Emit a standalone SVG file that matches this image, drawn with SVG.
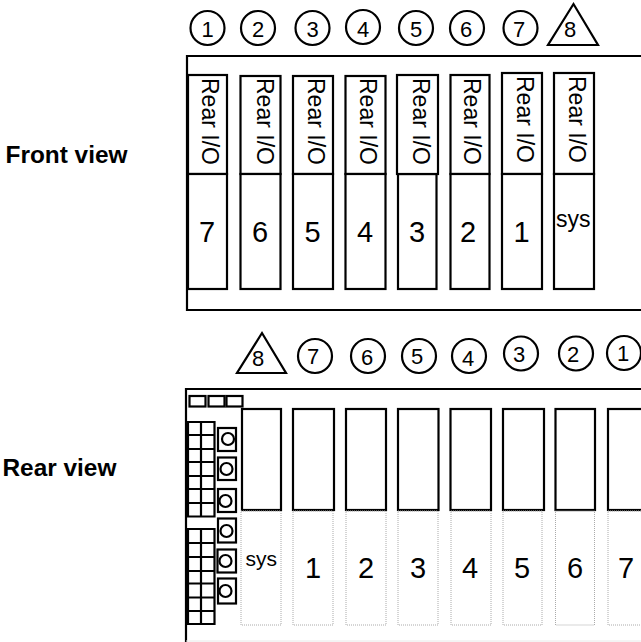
<svg xmlns="http://www.w3.org/2000/svg" width="641" height="642" viewBox="0 0 641 642">
<style>
text{font-family:"Liberation Sans",Arial,sans-serif;fill:#000}
.b{fill:#fff;stroke:#000;stroke-width:2.2}
.n{fill:none;stroke:#000;stroke-width:2.2}
.d{fill:none;stroke:#aaa;stroke-width:1;stroke-dasharray:1 1}
.l{font-size:24.400px;font-weight:bold}
.c{font-size:22px;text-anchor:middle}
.s{font-size:29px;text-anchor:middle}
.r{font-size:23px}
</style>
<rect width="641" height="642" fill="#fff"/>
<text class="l" x="5.500" y="163">Front view</text>
<text class="l" x="2.500" y="475.500">Rear view</text>
<g id="front-frame"><path class="n" d="M641 56H187V310H641"/></g>
<g id="front-badges">
<circle class="n" cx="207.500" cy="28" r="17"/><text class="c" x="207.500" y="36.500">1</text>
<circle class="n" cx="258" cy="28" r="17"/><text class="c" x="258" y="36.500">2</text>
<circle class="n" cx="312.500" cy="28" r="17"/><text class="c" x="312.500" y="36.500">3</text>
<circle class="n" cx="363" cy="27" r="17"/><text class="c" x="363" y="36.500">4</text>
<circle class="n" cx="416" cy="28" r="17"/><text class="c" x="416" y="36.500">5</text>
<circle class="n" cx="467" cy="28" r="17"/><text class="c" x="466" y="36.500">6</text>
<circle class="n" cx="520.500" cy="28" r="17"/><text class="c" x="519" y="36.500">7</text>
<path class="n" d="M573.500 4L548 45H598Z"/><text class="c" x="570" y="36.500">8</text>
</g>
<g id="front-slot-7"><rect class="b" x="188" y="75" width="39" height="99"/><rect class="b" x="188" y="174" width="39" height="115"/><text class="r" transform="translate(201.500 78) rotate(90)">Rear I/O</text><text class="s" x="207" y="242">7</text></g>
<g id="front-slot-6"><rect class="b" x="240.500" y="76" width="40" height="98"/><rect class="b" x="240.500" y="174" width="40" height="115"/><text class="r" transform="translate(256.500 78) rotate(90)">Rear I/O</text><text class="s" x="260" y="242">6</text></g>
<g id="front-slot-5"><rect class="b" x="293" y="76" width="40" height="98"/><rect class="b" x="293" y="174" width="40" height="115"/><text class="r" transform="translate(308 78) rotate(90)">Rear I/O</text><text class="s" x="312.500" y="242">5</text></g>
<g id="front-slot-4"><rect class="b" x="345.500" y="76" width="40" height="98"/><rect class="b" x="345.500" y="174" width="40" height="115"/><text class="r" transform="translate(360 78) rotate(90)">Rear I/O</text><text class="s" x="365" y="242">4</text></g>
<g id="front-slot-3"><rect class="b" x="398" y="174" width="38.500" height="115"/><rect class="b" x="397" y="75" width="41" height="99"/><text class="r" transform="translate(412.500 78) rotate(90)">Rear I/O</text><text class="s" x="417" y="242">3</text></g>
<g id="front-slot-2"><rect class="b" x="450.500" y="75" width="39" height="99"/><rect class="b" x="450.500" y="174" width="39" height="115"/><text class="r" transform="translate(464 78) rotate(90)">Rear I/O</text><text class="s" x="468" y="242">2</text></g>
<g id="front-slot-1"><rect class="b" x="502" y="73" width="40" height="101"/><rect class="b" x="502" y="174" width="40" height="115"/><text class="r" transform="translate(516.500 76) rotate(90)">Rear I/O</text><text class="s" x="521.500" y="242">1</text></g>
<g id="front-slot-sys"><rect class="b" x="554" y="73" width="40" height="101"/><rect class="b" x="554" y="174" width="40" height="115"/><text class="r" transform="translate(569 76) rotate(90)">Rear I/O</text><text class="r" x="556" y="227">sys</text></g>

<g id="rear-frame"><path class="n" d="M641 389H186V642"/><path d="M186 641H641" stroke="#e8e8e8" stroke-width="1"/></g>
<g id="rear-badges">
<path class="n" d="M262 333L237 373H286Z"/><text class="c" x="258" y="366">8</text>
<circle class="n" cx="315" cy="356" r="17"/><text class="c" x="313" y="364">7</text>
<circle class="n" cx="368" cy="356" r="17"/><text class="c" x="367" y="365">6</text>
<circle class="n" cx="419" cy="356" r="17"/><text class="c" x="417" y="364">5</text>
<circle class="n" cx="469" cy="356" r="17"/><text class="c" x="468" y="366">4</text>
<circle class="n" cx="521" cy="353.500" r="17"/><text class="c" x="519" y="362">3</text>
<circle class="n" cx="576" cy="353.500" r="17"/><text class="c" x="573" y="362">2</text>
<circle class="n" cx="624" cy="353" r="17"/><text class="c" x="623" y="361">1</text>
</g>
<g id="rear-leds"><rect class="n" x="189.500" y="396" width="16" height="10.500"/><rect class="n" x="208.500" y="396" width="16" height="10.500"/><rect class="n" x="226.500" y="396" width="16" height="10.500"/></g>
<g id="rear-grid-upper"><path class="n" d="M188 422H214.500V516.500H188ZM201 422V516.500M188 435H214.500M188 449H214.500M188 462H214.500M188 476H214.500M188 489H214.500M188 503H214.500"/></g>
<g id="rear-grid-lower"><path class="n" d="M188 529H214.500V624H188ZM201 529V624M188 543H214.500M188 557H214.500M188 571H214.500M188 583.500H214.500M188 597.500H214.500M188 611H214.500"/></g>
<g id="rear-ports">
<rect class="n" x="218" y="428" width="18" height="23"/><circle class="n" cx="228" cy="439" r="6"/>
<rect class="n" x="218" y="457.500" width="18" height="22.500"/><circle class="n" cx="226.500" cy="469" r="6"/>
<rect class="n" x="218" y="489" width="18" height="23"/><circle class="n" cx="225.500" cy="501" r="6"/>
<rect class="n" x="218" y="518.500" width="18" height="24"/><circle class="n" cx="226.500" cy="531" r="6"/>
<rect class="n" x="217.500" y="549.500" width="18.500" height="23"/><circle class="n" cx="225.500" cy="561" r="6"/>
<rect class="n" x="218" y="578.500" width="18" height="25"/><circle class="n" cx="225.500" cy="591" r="6"/>
</g>
<g id="rear-slot-sys"><rect class="n" x="242" y="409" width="39" height="101"/><rect class="d" x="241" y="511" width="40" height="114"/><text class="r" x="245.500" y="566" style="font-size:21px">sys</text></g>
<g id="rear-slot-1"><rect class="n" x="293" y="409" width="41" height="101"/><rect class="d" x="293" y="511" width="40" height="114"/><text class="s" x="313" y="578">1</text></g>
<g id="rear-slot-2"><rect class="n" x="346" y="409" width="40" height="101"/><rect class="d" x="346" y="511" width="40" height="114"/><text class="s" x="366" y="578">2</text></g>
<g id="rear-slot-3"><rect class="n" x="398" y="409" width="40.500" height="101"/><rect class="d" x="398" y="511" width="40" height="114"/><text class="s" x="418" y="578">3</text></g>
<g id="rear-slot-4"><rect class="n" x="450.500" y="409" width="40.500" height="101"/><rect class="d" x="451" y="511" width="40" height="114"/><text class="s" x="470" y="578">4</text></g>
<g id="rear-slot-5"><rect class="n" x="503" y="409" width="41" height="101"/><rect class="d" x="503" y="511" width="39" height="114"/><text class="s" x="522" y="578">5</text></g>
<g id="rear-slot-6"><rect class="n" x="555.500" y="409" width="39.500" height="101"/><rect class="d" x="555.500" y="511" width="39" height="114"/><text class="s" x="575" y="578">6</text></g>
<g id="rear-slot-7"><rect class="n" x="608" y="409" width="45" height="101"/><rect class="d" x="608" y="511" width="45" height="114"/><text class="s" x="626" y="578">7</text></g>
</svg>
